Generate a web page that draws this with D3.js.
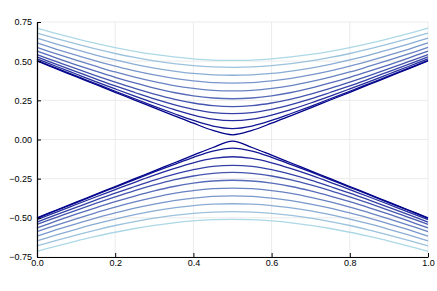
<!DOCTYPE html>
<html>
<head>
<meta charset="utf-8">
<script src="https://cdn.jsdelivr.net/npm/d3@7"></script>
<style>
  body { margin: 0; background: #fff; }
  svg { display: block; font-family: "Liberation Sans", Arial, sans-serif; }
</style>
</head>
<body>
<svg id="chart" width="437" height="291"></svg>
<script>
// x positions shared by every band
const xValues = [0, 0.05, 0.1, 0.15, 0.2, 0.25, 0.3, 0.35, 0.4, 0.45, 0.5,
  0.55, 0.6, 0.65, 0.7, 0.75, 0.8, 0.85, 0.9, 0.95, 1];

// upper bands, inner (darkest) to outer (lightest)
const upperBands = [
  [0.501, 0.451, 0.401, 0.351, 0.301, 0.252, 0.202, 0.153, 0.104, 0.058, 0.030, 0.058, 0.104, 0.153, 0.202, 0.252, 0.301, 0.351, 0.401, 0.451, 0.501],
  [0.505, 0.455, 0.406, 0.357, 0.308, 0.260, 0.212, 0.166, 0.122, 0.086, 0.070, 0.086, 0.122, 0.166, 0.212, 0.260, 0.308, 0.357, 0.406, 0.455, 0.505],
  [0.514, 0.466, 0.418, 0.370, 0.323, 0.277, 0.233, 0.192, 0.156, 0.130, 0.120, 0.130, 0.156, 0.192, 0.233, 0.277, 0.323, 0.370, 0.418, 0.466, 0.514],
  [0.527, 0.479, 0.433, 0.387, 0.342, 0.300, 0.259, 0.223, 0.193, 0.172, 0.165, 0.172, 0.193, 0.223, 0.259, 0.300, 0.342, 0.387, 0.433, 0.479, 0.527],
  [0.542, 0.497, 0.452, 0.408, 0.366, 0.326, 0.290, 0.258, 0.233, 0.216, 0.210, 0.216, 0.233, 0.258, 0.290, 0.326, 0.366, 0.408, 0.452, 0.497, 0.542],
  [0.564, 0.520, 0.477, 0.436, 0.397, 0.361, 0.328, 0.300, 0.279, 0.265, 0.260, 0.265, 0.279, 0.300, 0.328, 0.361, 0.397, 0.436, 0.477, 0.520, 0.564],
  [0.588, 0.546, 0.506, 0.468, 0.431, 0.398, 0.369, 0.344, 0.326, 0.314, 0.310, 0.314, 0.326, 0.344, 0.369, 0.398, 0.431, 0.468, 0.506, 0.546, 0.588],
  [0.616, 0.576, 0.538, 0.502, 0.469, 0.438, 0.412, 0.390, 0.374, 0.363, 0.360, 0.363, 0.374, 0.390, 0.412, 0.438, 0.469, 0.502, 0.538, 0.576, 0.616],
  [0.647, 0.609, 0.573, 0.539, 0.508, 0.480, 0.456, 0.437, 0.422, 0.413, 0.410, 0.413, 0.422, 0.437, 0.456, 0.480, 0.508, 0.539, 0.573, 0.609, 0.647],
  [0.679, 0.644, 0.610, 0.578, 0.549, 0.524, 0.502, 0.484, 0.471, 0.463, 0.460, 0.463, 0.471, 0.484, 0.502, 0.524, 0.549, 0.578, 0.610, 0.644, 0.679],
  [0.711, 0.676, 0.644, 0.614, 0.587, 0.563, 0.543, 0.527, 0.515, 0.507, 0.505, 0.507, 0.515, 0.527, 0.543, 0.563, 0.587, 0.614, 0.644, 0.676, 0.711]
];

// lower bands, inner (darkest) to outer (lightest)
const lowerBands = [
  [-0.500, -0.450, -0.400, -0.350, -0.300, -0.250, -0.200, -0.150, -0.100, -0.051, -0.010, -0.051, -0.100, -0.150, -0.200, -0.250, -0.300, -0.350, -0.400, -0.450, -0.500],
  [-0.503, -0.453, -0.404, -0.354, -0.305, -0.256, -0.207, -0.160, -0.114, -0.074, -0.055, -0.074, -0.114, -0.160, -0.207, -0.256, -0.305, -0.354, -0.404, -0.453, -0.503],
  [-0.512, -0.463, -0.415, -0.367, -0.320, -0.273, -0.228, -0.186, -0.149, -0.121, -0.110, -0.121, -0.149, -0.186, -0.228, -0.273, -0.320, -0.367, -0.415, -0.463, -0.512],
  [-0.527, -0.479, -0.433, -0.387, -0.342, -0.300, -0.259, -0.223, -0.193, -0.172, -0.165, -0.172, -0.193, -0.223, -0.259, -0.300, -0.342, -0.387, -0.433, -0.479, -0.527],
  [-0.542, -0.497, -0.452, -0.408, -0.366, -0.326, -0.290, -0.258, -0.233, -0.216, -0.210, -0.216, -0.233, -0.258, -0.290, -0.326, -0.366, -0.408, -0.452, -0.497, -0.542],
  [-0.564, -0.520, -0.477, -0.436, -0.397, -0.361, -0.328, -0.300, -0.279, -0.265, -0.260, -0.265, -0.279, -0.300, -0.328, -0.361, -0.397, -0.436, -0.477, -0.520, -0.564],
  [-0.588, -0.546, -0.506, -0.468, -0.431, -0.398, -0.369, -0.344, -0.326, -0.314, -0.310, -0.314, -0.326, -0.344, -0.369, -0.398, -0.431, -0.468, -0.506, -0.546, -0.588],
  [-0.616, -0.576, -0.538, -0.502, -0.469, -0.438, -0.412, -0.390, -0.374, -0.363, -0.360, -0.363, -0.374, -0.390, -0.412, -0.438, -0.469, -0.502, -0.538, -0.576, -0.616],
  [-0.647, -0.609, -0.573, -0.539, -0.508, -0.480, -0.456, -0.437, -0.422, -0.413, -0.410, -0.413, -0.422, -0.437, -0.456, -0.480, -0.508, -0.539, -0.573, -0.609, -0.647],
  [-0.679, -0.644, -0.610, -0.578, -0.549, -0.524, -0.502, -0.484, -0.471, -0.463, -0.460, -0.463, -0.471, -0.484, -0.502, -0.524, -0.549, -0.578, -0.610, -0.644, -0.679],
  [-0.714, -0.680, -0.648, -0.619, -0.592, -0.568, -0.548, -0.532, -0.520, -0.512, -0.510, -0.512, -0.520, -0.532, -0.548, -0.568, -0.592, -0.619, -0.648, -0.680, -0.714]
];

const xTicks = [0, 0.2, 0.4, 0.6, 0.8, 1.0];
const yTicks = [-0.75, -0.5, -0.25, 0, 0.25, 0.5, 0.75];

const width = 437,
  height = 291,
  margin = { top: 22, right: 9, bottom: 34, left: 37 };

const svg = d3.select("#chart");

const x = d3.scaleLinear()
  .domain([0, 1])
  .range([margin.left, width - margin.right]);

const y = d3.scaleLinear()
  .domain([-0.75, 0.75])
  .range([height - margin.bottom, margin.top]);

const fmtY = d => d3.format(".2f")(d).replace("-", "\u2212 ");
const fmtX = d3.format(".1f");

// grid
svg.append("g")
  .selectAll("line")
  .data(xTicks)
  .join("line")
  .attr("x1", d => x(d)).attr("x2", d => x(d))
  .attr("y1", y(-0.75)).attr("y2", y(0.75))
  .attr("stroke", "#ebebeb")
  .attr("stroke-width", 1);

svg.append("g")
  .selectAll("line")
  .data(yTicks)
  .join("line")
  .attr("x1", x(0)).attr("x2", x(1))
  .attr("y1", d => y(d)).attr("y2", d => y(d))
  .attr("stroke", "#ebebeb")
  .attr("stroke-width", 1);

// bands
const colour = d3.interpolateRgb("#00008b", "#add8e6");
const line = d3.line()
  .x((d, i) => x(xValues[i]))
  .y(d => y(d))
  .curve(d3.curveCatmullRom.alpha(0.5));

const bands = [];
upperBands.forEach((b, i) => bands.push({ values: b, t: i / (upperBands.length - 1) }));
lowerBands.forEach((b, i) => bands.push({ values: b, t: i / (lowerBands.length - 1) }));
bands.sort((a, b) => b.t - a.t);

svg.append("g")
  .selectAll("path")
  .data(bands)
  .join("path")
  .attr("fill", "none")
  .attr("stroke", d => colour(d.t))
  .attr("stroke-width", 1.3)
  .attr("stroke-linejoin", "round")
  .attr("d", d => line(d.values));

// axes
const xAxis = d3.axisBottom(x)
  .tickValues(xTicks)
  .tickFormat(fmtX)
  .tickSizeInner(-4)
  .tickSizeOuter(0)
  .tickPadding(3);

const yAxis = d3.axisLeft(y)
  .tickValues(yTicks)
  .tickFormat(fmtY)
  .tickSizeInner(-4)
  .tickSizeOuter(0)
  .tickPadding(5);

const gx = svg.append("g")
  .attr("transform", `translate(0,${y(-0.75)})`)
  .call(xAxis);

const gy = svg.append("g")
  .attr("transform", `translate(${x(0)},0)`)
  .call(yAxis);

[gx, gy].forEach(g => {
  g.select(".domain").attr("stroke", "#000").attr("stroke-width", 1.2);
  g.selectAll(".tick line").attr("stroke", "#000").attr("stroke-width", 1);
  g.selectAll(".tick text")
    .attr("fill", "#000")
    .attr("font-size", 9)
    .attr("font-family", "Liberation Sans, Arial, sans-serif");
});
</script>
</body>
</html>
